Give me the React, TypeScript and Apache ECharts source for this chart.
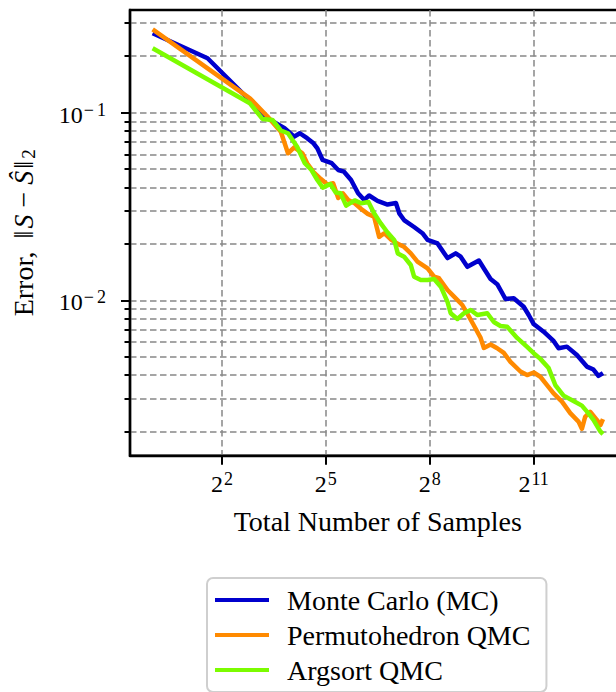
import React, { useEffect, useRef } from "react";
import * as echarts from "echarts";

// ---- data ----
const seriesNames = ["Monte Carlo (MC)", "Permutohedron QMC", "Argsort QMC"];

const mcN = [1, 3, 10, 14, 17, 19, 22, 25, 27, 30, 36, 41, 46, 53, 61, 69, 76, 90, 110, 130, 139, 153, 187, 221, 245, 299, 365, 430, 475, 543, 684, 756, 864, 987, 1054, 1165, 1374, 1677, 1853, 2047, 2498, 3049, 3368, 3983, 4861, 5935, 6770, 7478, 8192];
const mcErr = [0.265, 0.195, 0.0933, 0.0826, 0.0745, 0.0777, 0.0731, 0.0687, 0.0646, 0.056, 0.0538, 0.0495, 0.0485, 0.0438, 0.0372, 0.0343, 0.0362, 0.0339, 0.0324, 0.033, 0.0291, 0.0268, 0.0246, 0.0228, 0.021, 0.0201, 0.0168, 0.0178, 0.0171, 0.0151, 0.0163, 0.0148, 0.013, 0.0122, 0.01136, 0.01017, 0.01026, 0.00925, 0.00836, 0.00748, 0.00681, 0.00608, 0.00556, 0.00567, 0.00512, 0.00444, 0.00428, 0.00396, 0.0041];

const permN = [1, 7, 10, 13, 15, 17, 20, 22, 25, 29, 33, 37, 41, 45, 50, 57, 65, 74, 84, 93, 103, 118, 135, 153, 175, 200, 245, 279, 308, 365, 416, 491, 561, 619, 708, 756, 864, 987, 1126, 1287, 1571, 1795, 2047, 2340, 2674, 3049, 3605, 4255, 5020, 5372, 5737, 6338, 7243, 7800, 8192];
const permErr = [0.278, 0.1193, 0.0952, 0.0792, 0.0608, 0.0653, 0.0608, 0.0538, 0.0483, 0.0443, 0.0414, 0.0421, 0.0351, 0.0372, 0.0343, 0.0329, 0.0307, 0.0289, 0.0279, 0.0218, 0.0228, 0.0211, 0.02, 0.0193, 0.0178, 0.0161, 0.0148, 0.01337, 0.01312, 0.01136, 0.01047, 0.00945, 0.00819, 0.00735, 0.00631, 0.00558, 0.00582, 0.00556, 0.00525, 0.00471, 0.00418, 0.004, 0.00413, 0.00392, 0.00354, 0.0032, 0.00289, 0.00251, 0.00226, 0.00207, 0.0024, 0.00255, 0.00231, 0.00217, 0.00233];

const argN = [1, 7, 9, 11, 13, 15, 18, 21, 24, 27, 30, 35, 39, 43, 48, 57, 65, 75, 84, 96, 110, 126, 135, 153, 175, 187, 214, 245, 279, 319, 365, 389, 445, 507, 580, 663, 809, 922, 1054, 1205, 1470, 1795, 2047, 2340, 2761, 3155, 3723, 4542, 5372, 6127, 6770, 7733, 8192];
const argErr = [0.2203, 0.1122, 0.0926, 0.0914, 0.0804, 0.0777, 0.0659, 0.0538, 0.0495, 0.0438, 0.0399, 0.0417, 0.0376, 0.0372, 0.032, 0.0341, 0.0329, 0.0334, 0.0291, 0.0257, 0.023, 0.0209, 0.0178, 0.0171, 0.01544, 0.01337, 0.01285, 0.01285, 0.013, 0.01183, 0.00981, 0.00854, 0.00796, 0.00854, 0.00889, 0.00836, 0.00854, 0.00767, 0.00731, 0.00724, 0.00631, 0.00565, 0.00523, 0.00488, 0.00436, 0.00354, 0.00311, 0.00291, 0.00275, 0.0025, 0.00231, 0.00201, 0.00194];

const xTickValues = [4, 32, 256, 2048];
const yMajorTicks = [0.01, 0.1];
const yMinorTicks = [0.002, 0.003, 0.004, 0.005, 0.006, 0.007, 0.008, 0.009, 0.02, 0.03, 0.04, 0.05, 0.06, 0.07, 0.08, 0.09, 0.2, 0.3];

const xMin = Math.pow(2, -0.654);
const xMax = Math.pow(2, 13.65);
const yMin = Math.pow(10, -2.8274);
const yMax = Math.pow(10, -0.4529);

const colors = ["#0000cd", "#ff8a00", "#7cfc00"];
const FONT = "'Liberation Serif', 'Times New Roman', serif";

const gridLine = { show: true, lineStyle: { type: [6.5, 3.5] as any, color: "#888888", width: 1.5 } };

export default function App() {
  const ref = useRef<HTMLDivElement>(null);
  useEffect(() => {
    if (!ref.current) return;
    const chart = echarts.init(ref.current, undefined, { renderer: "svg" });
    const supRich = {
      b: { fontSize: 24, lineHeight: 24, padding: [4, 1, 0, 0], color: "#000", fontFamily: FONT },
      m: { fontSize: 18, lineHeight: 18, verticalAlign: "top", padding: [0, 3, 0, 0], color: "#000", fontFamily: FONT },
      s: { fontSize: 18, lineHeight: 18, verticalAlign: "top", color: "#000", fontFamily: FONT },
    };
    const mk = (xs: number[], ys: number[]) => xs.map((n, i) => [n, ys[i]]);
    const nameBase = { fontSize: 28, lineHeight: 30, color: "#000", fontFamily: FONT };
    chart.setOption({
      animation: false,
      textStyle: { fontFamily: FONT, color: "#000" },
      grid: {
        left: 128, top: 10, right: 14.5, bottom: 236.3,
        show: true, borderColor: "#000", borderWidth: 2.4, backgroundColor: "transparent",
      },
      legend: {
        data: seriesNames,
        orient: "vertical",
        left: 207,
        top: 578,
        height: 300,
        icon: "rect",
        itemWidth: 54,
        itemHeight: 4,
        itemGap: 7,
        padding: [8, 16, 8, 8],
        borderColor: "#cfcfcf",
        borderWidth: 2,
        borderRadius: 6,
        backgroundColor: "rgba(255,255,255,0.8)",
        textStyle: { fontSize: 28, lineHeight: 27, color: "#000", fontFamily: FONT, padding: [0, 0, 0, 13] },
      },
      xAxis: {
        type: "log",
        logBase: 2,
        min: xMin,
        max: xMax,
        name: "Total Number of Samples",
        nameLocation: "middle",
        nameGap: 51,
        nameTextStyle: nameBase,
        axisLine: { show: true, lineStyle: { color: "#000", width: 2.4 } },
        axisTick: { show: true, length: 9, customValues: xTickValues, lineStyle: { color: "#000", width: 2 } },
        minorTick: { show: false },
        axisLabel: {
          customValues: xTickValues,
          margin: 14,
          formatter: (v: number) => `{b|2}{s|${Math.round(Math.log2(v))}}`,
          rich: supRich,
        },
        splitLine: gridLine,
      },
      yAxis: [
        {
          type: "log",
          logBase: 10,
          min: yMin,
          max: yMax,
          name: "{r|Error, }{n|‖}{i|S}{m|−}{i|Ŝ}{n|‖}{sub|2}",
          nameLocation: "middle",
          nameRotate: 90,
          nameGap: 92,
          nameTextStyle: {
            ...nameBase,
            rich: {
              r: { ...nameBase, padding: [0, 4, 0, 0] },
              n: { ...nameBase, padding: [0, 2, 0, 2] },
              i: { ...nameBase, fontStyle: "italic" },
              m: { ...nameBase, padding: [0, 7, 0, 7] },
              sub: { fontSize: 19, lineHeight: 19, verticalAlign: "bottom", color: "#000", fontFamily: FONT },
            },
          },
          axisLine: { show: true, lineStyle: { color: "#000", width: 2.4 } },
          axisTick: { show: true, length: 9, customValues: yMajorTicks, lineStyle: { color: "#000", width: 2 } },
          minorTick: { show: false },
          axisLabel: {
            customValues: yMajorTicks,
            margin: 24,
            formatter: (v: number) => `{b|10}{m|−}{s|${Math.round(-Math.log10(v))}}`,
            rich: supRich,
          },
          splitLine: gridLine,
        },
        {
          type: "log",
          logBase: 10,
          min: yMin,
          max: yMax,
          position: "left",
          axisLine: { show: false },
          axisTick: { show: true, length: 5.5, customValues: yMinorTicks, lineStyle: { color: "#000", width: 2 } },
          minorTick: { show: false },
          axisLabel: { show: false, customValues: yMinorTicks },
          splitLine: gridLine,
        },
      ],
      series: [
        { name: seriesNames[0], type: "line", data: mk(mcN, mcErr), color: colors[0] },
        { name: seriesNames[1], type: "line", data: mk(permN, permErr), color: colors[1] },
        { name: seriesNames[2], type: "line", data: mk(argN, argErr), color: colors[2] },
      ].map((s) => ({
        ...s,
        xAxisIndex: 0,
        yAxisIndex: 0,
        showSymbol: false,
        symbol: "none",
        lineStyle: { width: 4.5, color: s.color, join: "round", cap: "butt" },
        itemStyle: { color: s.color },
        emphasis: { disabled: true },
      })),
    });
    return () => chart.dispose();
  }, []);
  return (
    <div style={{ position: "fixed", left: 0, top: 0, width: 616, height: 692, overflow: "hidden", background: "#fff" }}>
      <div ref={ref} style={{ width: 640, height: 692 }} />
    </div>
  );
}
